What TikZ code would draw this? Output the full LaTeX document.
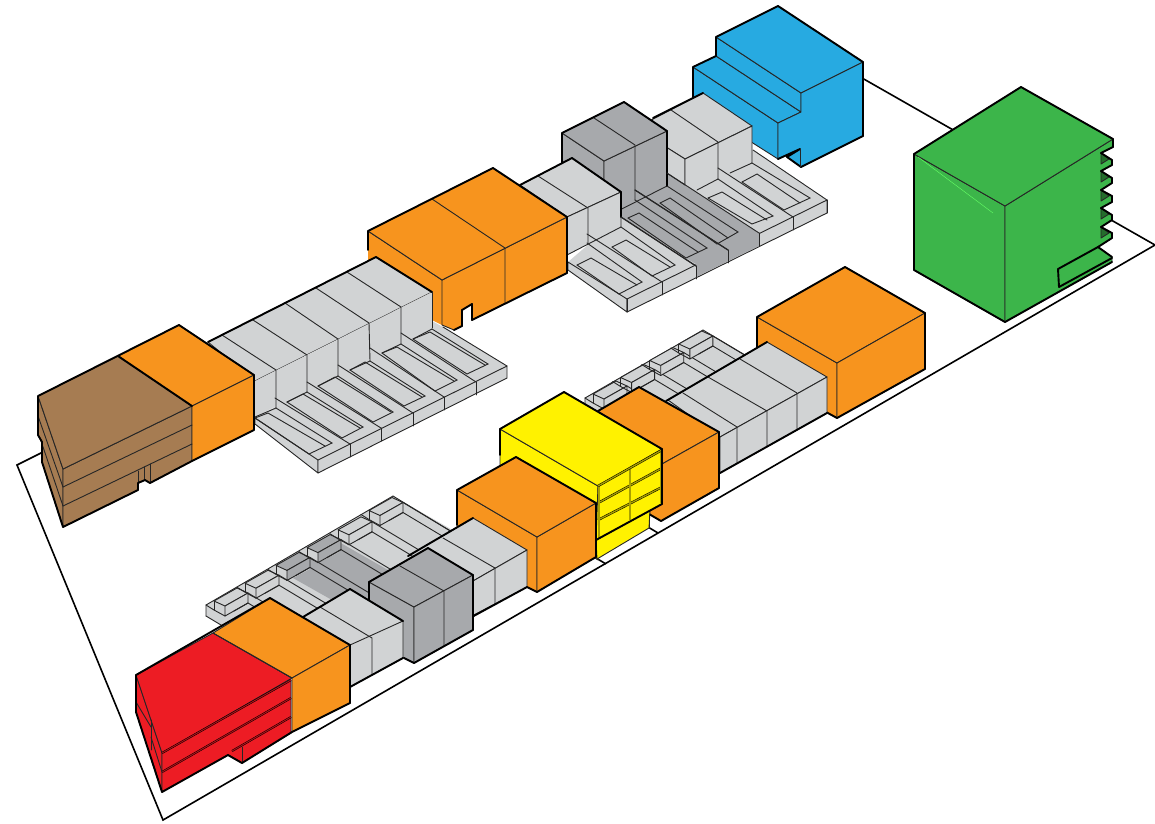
\documentclass[tikz,border=0pt]{standalone}
\usepackage{xcolor}
\usepackage{tikz}
\definecolor{bldorange}{HTML}{F7941E}
\definecolor{bldlight}{HTML}{D1D3D4}
\definecolor{bldslate}{HTML}{A7A9AC}
\definecolor{bldbrown}{HTML}{A67C52}
\definecolor{bldred}{HTML}{ED1C24}
\definecolor{bldblue}{HTML}{27AAE1}
\definecolor{bldgreen}{HTML}{3CB54A}
\definecolor{bldyellow}{HTML}{FFF200}
\definecolor{barolive}{HTML}{A8A000}
\definecolor{barred}{HTML}{B01018}
\begin{document}
\begin{tikzpicture}[
    x=1pt, y=-1pt,
    face/.style={draw=black!85, line width=0.9pt, line join=round},
    rim/.style={draw=black, line width=1.9pt, line join=round, line cap=round},
    edge/.style={draw=black!85, line width=0.9pt, line cap=round},
    groundline/.style={draw=black, line width=1.6pt, line join=miter},
    windowbar/.style={draw=black, line width=0.5pt, double=barolive, double distance=1.3pt},
    redbar/.style={draw=black, line width=0.5pt, double=barred, double distance=1pt},
]
    \useasboundingbox (0,0) rectangle (1155,823);

    % Terreno
    \draw[groundline] (45,451) -- (17,465) -- (163,820) -- (1155,245) -- (862,78);
    \draw[groundline] (596,558) -- (606,564);
    \draw[groundline] (648,527) -- (658,533);

    % Bloco azul
    \filldraw[face, fill=bldblue] (693,67) -- (778,123) -- (778,159) -- (693,105) -- cycle;
    \filldraw[face, fill=bldblue] (693,67) -- (716,56) -- (801,112) -- (778,123) -- cycle;
    \filldraw[face, fill=bldblue] (716,37) -- (801,93) -- (801,112) -- (716,56) -- cycle;
    \filldraw[face, fill=bldblue] (716,37) -- (778,6) -- (863,62) -- (801,93) -- cycle;
    \filldraw[face, fill=bldblue] (778,123) -- (801,112) -- (801,93) -- (863,62) -- (863,136) -- (801,167) -- (787,157) -- (800,149) -- (778,159) -- cycle;
    \draw[rim] (693,105) -- (693,67) -- (716,56) -- (716,37) -- (778,6) -- (863,62) -- (863,136) -- (801,167) -- (787,157) -- (800,149) -- (778,159);
    \draw[edge] (800,149) -- (800,167);

    % Patio 2 (fundo)
    \fill[bldlight] (568,262) -- (627,299) -- (827,200) -- (753,150) -- (640,200) -- cycle;
    \filldraw[face, fill=bldlight] (568,262) -- (627,299) -- (627,312) -- (568,270) -- cycle;
    \filldraw[face, fill=bldlight] (627,299) -- (827,200) -- (827,213) -- (627,312) -- cycle;
    \draw[edge] (827,200) -- (753,150);
    \fill[bldslate] (622,217) -- (686,258) -- (696,264) -- (696,277) -- (759,246) -- (759,233) -- (667,173) -- (635,190) -- (622,208) -- cycle;
    \foreach \tick in {(627,299),(662,282),(696,266),(728,250),(759,233),(793,217),(827,200)}
        \draw[edge] \tick -- ++(0,13);

    % Bloco claro ao fundo
    \filldraw[face, fill=bldlight] (636,128) -- (703,93) -- (752,126) -- (685,159) -- cycle;
    \filldraw[face, fill=bldlight] (636,128) -- (685,159) -- (685,185) -- (636,153) -- cycle;
    \fill[bldlight] (685,159) -- (752,126) -- (752,163) -- (697,190) -- (685,185) -- cycle;
    \draw[edge] (685,185) -- (685,159) -- (752,126) -- (752,163) -- (730,173);
    \draw[edge] (718,179) -- (697,190);
    \draw[edge] (671,110) -- (718,142) -- (718,179);
    \draw[rim] (653,118) -- (703,93);

    % Bloco escuro
    \filldraw[face, fill=bldslate] (562,133) -- (604,161) -- (604,220) -- (562,190) -- cycle;
    \filldraw[face, fill=bldslate] (604,161) -- (667,131) -- (667,186) -- (604,218) -- cycle;
    \filldraw[face, fill=bldslate] (562,133) -- (624,102) -- (667,131) -- (604,161) -- cycle;
    \draw[edge] (594,118) -- (635,145) -- (635,200);
    \draw[rim] (562,165) -- (562,133) -- (624,102) -- (667,131) -- (667,186);

    % Bloco claro junto ao laranja
    \filldraw[face, fill=bldlight] (520,185) -- (572,158) -- (621,192) -- (567,217) -- cycle;
    \filldraw[face, fill=bldlight] (567,217) -- (621,192) -- (621,227) -- (567,255) -- cycle;
    \draw[edge] (538,176) -- (588,208) -- (588,243);
    \draw[rim] (520,185) -- (572,158) -- (621,192) -- (621,217);

    % Vaos do patio 2
    \foreach \backl/\backr/\ridgel/\ridgem/\ridger/\foot in {
        {577,265}/{591,258}/{619,294}/{637,285}/{642,282}/{587,243},
        {612,247}/{626,240}/{652,276}/{670,267}/{675,265}/{621,227},
        {628,218}/{639,213}/{686,258}/{698,252}/{707,248}/{635,200},
        {660,203}/{670,198}/{717,244}/{728,238}/{738,232}/{667,186},
        {708,198}/{722,192}/{752,224}/{767,220}/{773,216}/{718,179},
        {742,182}/{757,174}/{784,210}/{800,203}/{810,198}/{752,163}} {
        \draw[edge] (\backl) -- (\backr) -- (\ridgem);
        \draw[edge] (\backl) -- (\ridgel) -- (\ridger) -- (\foot);
    }
    \foreach \wall/\tick in {{587,234}/{662,282},{621,217}/{696,266},{635,190}/{728,250},{667,173}/{759,233},{718,168}/{793,217}}
        \draw[edge] (\wall) -- (\tick);
    \draw[edge, line width=1.2pt] (621,217) -- (696,266);
    \draw[edge, line width=1.2pt] (635,190) -- (728,250);

    % Laranja superior
    \fill[bldorange] (368,231) -- (442,280) -- (442,325) -- (432,320) -- (368,275) -- cycle;
    \draw[edge] (368,231) -- (442,280);
    \filldraw[face, fill=bldorange] (442,280) -- (567,217) -- (567,273) -- (472,320) -- (472,304) -- (462,310) -- (462,326) -- (454,330) -- (442,325) -- cycle;
    \filldraw[face, fill=bldorange] (368,231) -- (493,168) -- (567,217) -- (442,280) -- cycle;
    \draw[edge] (432,199) -- (505,248) -- (505,303);
    \draw[rim] (368,250) -- (368,231) -- (493,168) -- (567,217) -- (567,273) -- (472,320) -- (472,304) -- (462,310) -- (462,326) -- (454,330);

    % Patio 1
    \fill[bldlight] (255,418) -- (318,460) -- (507,366) -- (443,327) -- (432,321) -- cycle;
    \filldraw[face, fill=bldlight] (255,418) -- (318,460) -- (318,473) -- (255,424) -- cycle;
    \filldraw[face, fill=bldlight] (318,460) -- (507,366) -- (507,378) -- (318,473) -- cycle;
    \draw[edge] (507,366) -- (443,327);
    \foreach \tick in {(350,444),(381,428),(413,413),(444,397),(476,382)}
        \draw[edge] \tick -- ++(0,13);

    % Bloco claro superior
    \filldraw[face, fill=bldlight] (208,342) -- (376,257) -- (432,292) -- (255,381) -- cycle;
    \fill[bldlight] (255,381) -- (432,292) -- (432,328) -- (255,417) -- cycle;
    \foreach \ridge/\base/\back in {{276,370}/{276,408}/{222,335},{307,355}/{307,392}/{253,320},{338,339}/{338,376}/{285,303},{369,323}/{370,361}/{316,288},{401,307}/{401,344}/{347,272}}
        \draw[edge] (\back) -- (\ridge) -- (\base);
    \foreach \basel/\baser in {{255,417}/{276,408},{287,402}/{307,392},{318,386}/{338,376},{350,370}/{370,361},{382,353}/{401,344},{413,339}/{432,329}}
        \draw[edge] (\basel) -- (\baser);
    \draw[rim] (208,342) -- (376,257) -- (432,292);
    \draw[edge] (432,292) -- (432,328);

    % Vaos do patio 1
    \foreach \backl/\backr/\ridgel/\ridgem/\ridger/\foot in {
        {255,418}/{268,413}/{309,454}/{325,446}/{332,443}/{276,408},
        {287,402}/{303,394}/{342,438}/{360,428}/{363,427}/{307,392},
        {318,386}/{335,377}/{373,422}/{391,412}/{393,412}/{338,376},
        {350,370}/{365,362}/{404,406}/{422,397}/{425,396}/{370,361},
        {382,353}/{397,347}/{435,391}/{454,381}/{457,380}/{401,344},
        {413,339}/{430,332}/{467,374}/{485,365}/{488,364}/{432,329}} {
        \draw[edge] (\backl) -- (\backr) -- (\ridgem);
        \draw[edge] (\backl) -- (\ridgel) -- (\ridger) -- (\foot);
    }
    \foreach \wall/\tick in {{275,398}/{350,444},{307,382}/{381,428},{338,365}/{413,413},{370,348}/{444,397},{401,333}/{476,382}}
        \draw[edge] (\wall) -- (\tick);

    % Laranja e marrom a esquerda
    \filldraw[face, fill=bldbrown] (38,396) -- (38,435) -- (42,442) -- (42,462) -- (63,527) -- (63,469) -- cycle;
    \filldraw[face, fill=bldbrown] (63,469) -- (192,406) -- (192,461) -- (150,483) -- (145,480) -- (138,483) -- (138,490) -- (63,527) -- cycle;
    \filldraw[face, fill=bldbrown] (38,396) -- (118,356) -- (192,406) -- (63,469) -- cycle;
    \filldraw[face, fill=bldorange] (118,356) -- (179,325) -- (254,375) -- (192,406) -- cycle;
    \filldraw[face, fill=bldorange] (192,406) -- (254,375) -- (254,430) -- (192,461) -- cycle;
    \draw[edge] (63,487) -- (192,425);
    \draw[edge] (63,506) -- (192,444);
    \draw[edge] (38,416) -- (63,487);
    \draw[edge] (41,441) -- (63,506);
    \draw[edge] (138,471) -- (138,490);
    \draw[edge] (144,467) -- (144,480);
    \draw[edge] (150,464) -- (150,483);
    \draw[rim] (118,356) -- (192,406);
    \draw[rim] (38,396) -- (179,325) -- (254,375) -- (254,430) -- (192,461) -- (150,483) -- (145,480) -- (138,483) -- (138,490) -- (63,527) -- (42,462) -- (42,442) -- (38,435) -- (38,396);

    % Patios da segunda fila
    \fill[bldlight] (206,605) -- (393,496) -- (470,540) -- (300,640) -- (226,628) -- (206,616) -- cycle;
    \fill[bldlight] (585,398) -- (703,330) -- (770,370) -- (650,440) -- (598,411) -- (585,405) -- cycle;
    \draw[edge] (206,616) -- (206,605) -- (393,496) -- (452,532);
    \draw[edge] (206,616) -- (226,628);
    \draw[edge] (585,405) -- (585,398) -- (703,330) -- (745,355);
    \fill[bldslate] (293,578) -- (310,569) -- (310,558) -- (318,563) -- (339,552) -- (339,542) -- (388,570) -- (370,582) -- (368,598) -- (348,590) -- (332,600) -- cycle;
    \foreach \sx/\sy/\tone in {0/0/bldlight, 31/-17.8/bldlight, 62/-35.6/bldslate, 93/-53.4/bldslate, 124/-71.2/bldlight, 155/-90.5/bldlight, 379/-207/bldlight, 406.6/-223.5/bldlight, 435.7/-240.5/bldlight, 464.8/-257/bldlight} {
        \begin{scope}[shift={(\sx,\sy)}]
            \filldraw[face, fill=\tone] (214,601) -- (225,606) -- (248,593) -- (237,588) -- cycle;
            \filldraw[face, fill=\tone] (225,606) -- (248,593) -- (248,603) -- (225,616) -- cycle;
            \draw[edge] (206,605) -- (214,610) -- (225,616);
            \draw[edge] (214,601) -- (214,610);
            \draw[edge] (248,593) -- ++(65,39);
            \draw[edge] (248,603) -- ++(55,33);
            \draw[edge] (234,611) -- (248,603);
        \end{scope}
    }

    % Laranja da direita
    \filldraw[face, fill=bldorange] (757,317) -- (837,363) -- (837,418) -- (826,412) -- (757,372) -- cycle;
    \filldraw[face, fill=bldorange] (757,317) -- (845,267) -- (925,313) -- (837,363) -- cycle;
    \filldraw[face, fill=bldorange] (837,363) -- (925,313) -- (925,369) -- (837,418) -- cycle;
    \draw[rim] (757,350) -- (757,317) -- (845,267) -- (925,313) -- (925,369) -- (837,418) -- (826,412);

    % Bloco claro da direita
    \filldraw[face, fill=bldlight] (668,400) -- (767,342) -- (827,377) -- (720,437) -- cycle;
    \filldraw[face, fill=bldlight] (720,437) -- (827,377) -- (827,413) -- (720,473) -- cycle;
    \foreach \ridge/\back in {{737,427}/{683,393},{767,411}/{708,377},{797,393}/{740,359}}
        \draw[edge] (\back) -- (\ridge) -- ++(0,36);
    \draw[rim] (666,401) -- (767,342);
    \draw[rim] (720,473) -- (827,413);

    % Laranja atras do amarelo
    \filldraw[face, fill=bldorange] (598,411) -- (639,387) -- (719,432) -- (662,464) -- cycle;
    \filldraw[face, fill=bldorange] (662,464) -- (719,432) -- (719,488) -- (661,521) -- (649,514) -- (649,480) -- cycle;
    \draw[rim] (598,411) -- (639,387) -- (719,432) -- (719,488) -- (661,521) -- (649,514);

    % Amarelo
    \filldraw[face, fill=bldyellow] (500,429) -- (598,486) -- (598,560) -- (500,480) -- cycle;
    \filldraw[face, fill=bldyellow] (596,540) -- (650,510) -- (649,528) -- (597,559) -- cycle;
    \filldraw[face, fill=bldyellow] (598,486) -- (662,449) -- (662,504) -- (596,540) -- cycle;
    \filldraw[face, fill=bldyellow] (500,429) -- (564,392) -- (662,449) -- (598,486) -- cycle;
    \foreach \barl/\barr in {{598,503}/{662,468},{598,520}/{662,487}}
        \draw[windowbar] (\barl) -- (\barr);
    \draw[windowbar] (599,486) -- (599,539);
    \draw[windowbar] (630,468) -- (630,520);
    \draw[windowbar] (661,450) -- (661,503);
    \draw[windowbar] (598,486) -- (662,450);
    \draw[rim] (596,540) -- (662,504) -- (662,449) -- (564,392) -- (500,429) -- (500,455);
    \draw[edge] (649,514) -- (649,528);

    % Laranja central
    \filldraw[face, fill=bldorange] (457,490) -- (537,537) -- (537,592) -- (527,587) -- (457,545) -- cycle;
    \filldraw[face, fill=bldorange] (537,537) -- (596,503) -- (596,557) -- (537,592) -- cycle;
    \filldraw[face, fill=bldorange] (457,490) -- (516,457) -- (596,503) -- (537,537) -- cycle;
    \draw[rim] (457,525) -- (457,490) -- (516,457) -- (596,503);
    \draw[rim] (596,503) -- (596,557) -- (537,592) -- (527,587);

    % Bloco claro central
    \filldraw[face, fill=bldlight] (410,555) -- (473,518) -- (527,550) -- (466,585) -- cycle;
    \filldraw[face, fill=bldlight] (466,585) -- (527,550) -- (527,587) -- (470,617) -- cycle;
    \draw[edge] (443,538) -- (495,568) -- (495,604);
    \draw[rim] (408,556) -- (473,518);
    \draw[rim] (470,618) -- (527,587);

    % Bloco escuro da frente
    \filldraw[face, fill=bldslate] (369,582) -- (414,607) -- (414,663) -- (404,658) -- (369,637) -- cycle;
    \filldraw[face, fill=bldslate] (369,582) -- (428,548) -- (473,575) -- (414,607) -- cycle;
    \filldraw[face, fill=bldslate] (414,607) -- (473,575) -- (473,630) -- (414,663) -- cycle;
    \draw[edge] (400,566) -- (444,591) -- (444,646);
    \draw[rim] (369,610) -- (369,582) -- (428,548) -- (473,575) -- (473,630) -- (414,663) -- (404,658);

    % Bloco claro da frente
    \filldraw[face, fill=bldlight] (303,617) -- (350,589) -- (403,621) -- (350,650) -- cycle;
    \filldraw[face, fill=bldlight] (350,645) -- (403,621) -- (403,658) -- (350,687) -- cycle;
    \draw[edge] (320,607) -- (372,638) -- (372,674);
    \draw[rim] (303,617) -- (350,589) -- (403,621);
    \draw[rim] (350,687) -- (403,658);

    % Laranja e vermelho
    \filldraw[face, fill=bldred] (136,675) -- (162,753) -- (162,792) -- (136,712) -- cycle;
    \filldraw[face, fill=bldred] (162,753) -- (291,680) -- (291,733) -- (242,763) -- (228,755) -- (162,792) -- cycle;
    \filldraw[face, fill=bldred] (136,675) -- (213,633) -- (292,678) -- (162,753) -- cycle;
    \filldraw[face, fill=bldorange] (213,633) -- (270,598) -- (350,645) -- (292,678) -- cycle;
    \filldraw[face, fill=bldorange] (292,678) -- (350,645) -- (350,703) -- (292,732) -- cycle;
    \draw[redbar] (162,753) -- (291,680);
    \draw[redbar] (162,772) -- (291,698);
    \draw[redbar] (232,751) -- (291,717);
    \draw[edge] (242,747) -- (242,763);
    \draw[edge] (136,702) -- (151,727);
    \draw[edge] (151,720) -- (151,750);
    \draw[edge] (151,737) -- (162,772);
    \draw[edge] (151,757) -- (162,792);
    \draw[edge] (213,633) -- (292,678);
    \draw[rim] (136,712) -- (136,675) -- (270,598) -- (350,645) -- (350,703) -- (292,732) -- (242,763) -- (228,755) -- (162,792) -- (136,712);

    % Bloco verde
    \filldraw[face, fill=bldgreen] (914,154) -- (1005,206) -- (1005,322) -- (914,270) -- cycle;
    \filldraw[face, fill=bldgreen] (1005,206) -- (1113,139) -- (1113,147) -- (1101,153) -- (1112,160) -- (1112,165) -- (1101,171) -- (1112,178) -- (1112,183) -- (1101,190) -- (1112,196) -- (1112,202) -- (1101,208) -- (1112,215) -- (1112,220) -- (1101,227) -- (1112,233) -- (1112,238) -- (1098,247) -- (1112,257) -- (1112,262) -- (1005,322) -- cycle;
    \filldraw[face, fill=bldgreen] (914,154) -- (1021,87) -- (1113,139) -- (1005,206) -- cycle;
    \draw[green!60!white, line width=0.4pt] (918,157) -- (993,213);
    \foreach \notch in {153,171,190,208,227} {
        \filldraw[face, fill=bldgreen!60!black] (1101,\notch) -- (1101,\notch+11) -- (1109,\notch+6) -- cycle;
    }
    \draw[rim] (1058,269) -- (1098,247) -- (1112,257);
    \draw[rim] (1058,269) -- (1059,287) -- (1112,258);
    \draw[rim] (914,270) -- (914,154) -- (1021,87) -- (1113,139) -- (1113,147) -- (1101,153) -- (1112,160) -- (1112,165) -- (1101,171) -- (1112,178) -- (1112,183) -- (1101,190) -- (1112,196) -- (1112,202) -- (1101,208) -- (1112,215) -- (1112,220) -- (1101,227) -- (1112,233) -- (1112,238) -- (1098,247);
    \draw[rim] (1112,262) -- (1005,322) -- (914,270);
\end{tikzpicture}
\end{document}
